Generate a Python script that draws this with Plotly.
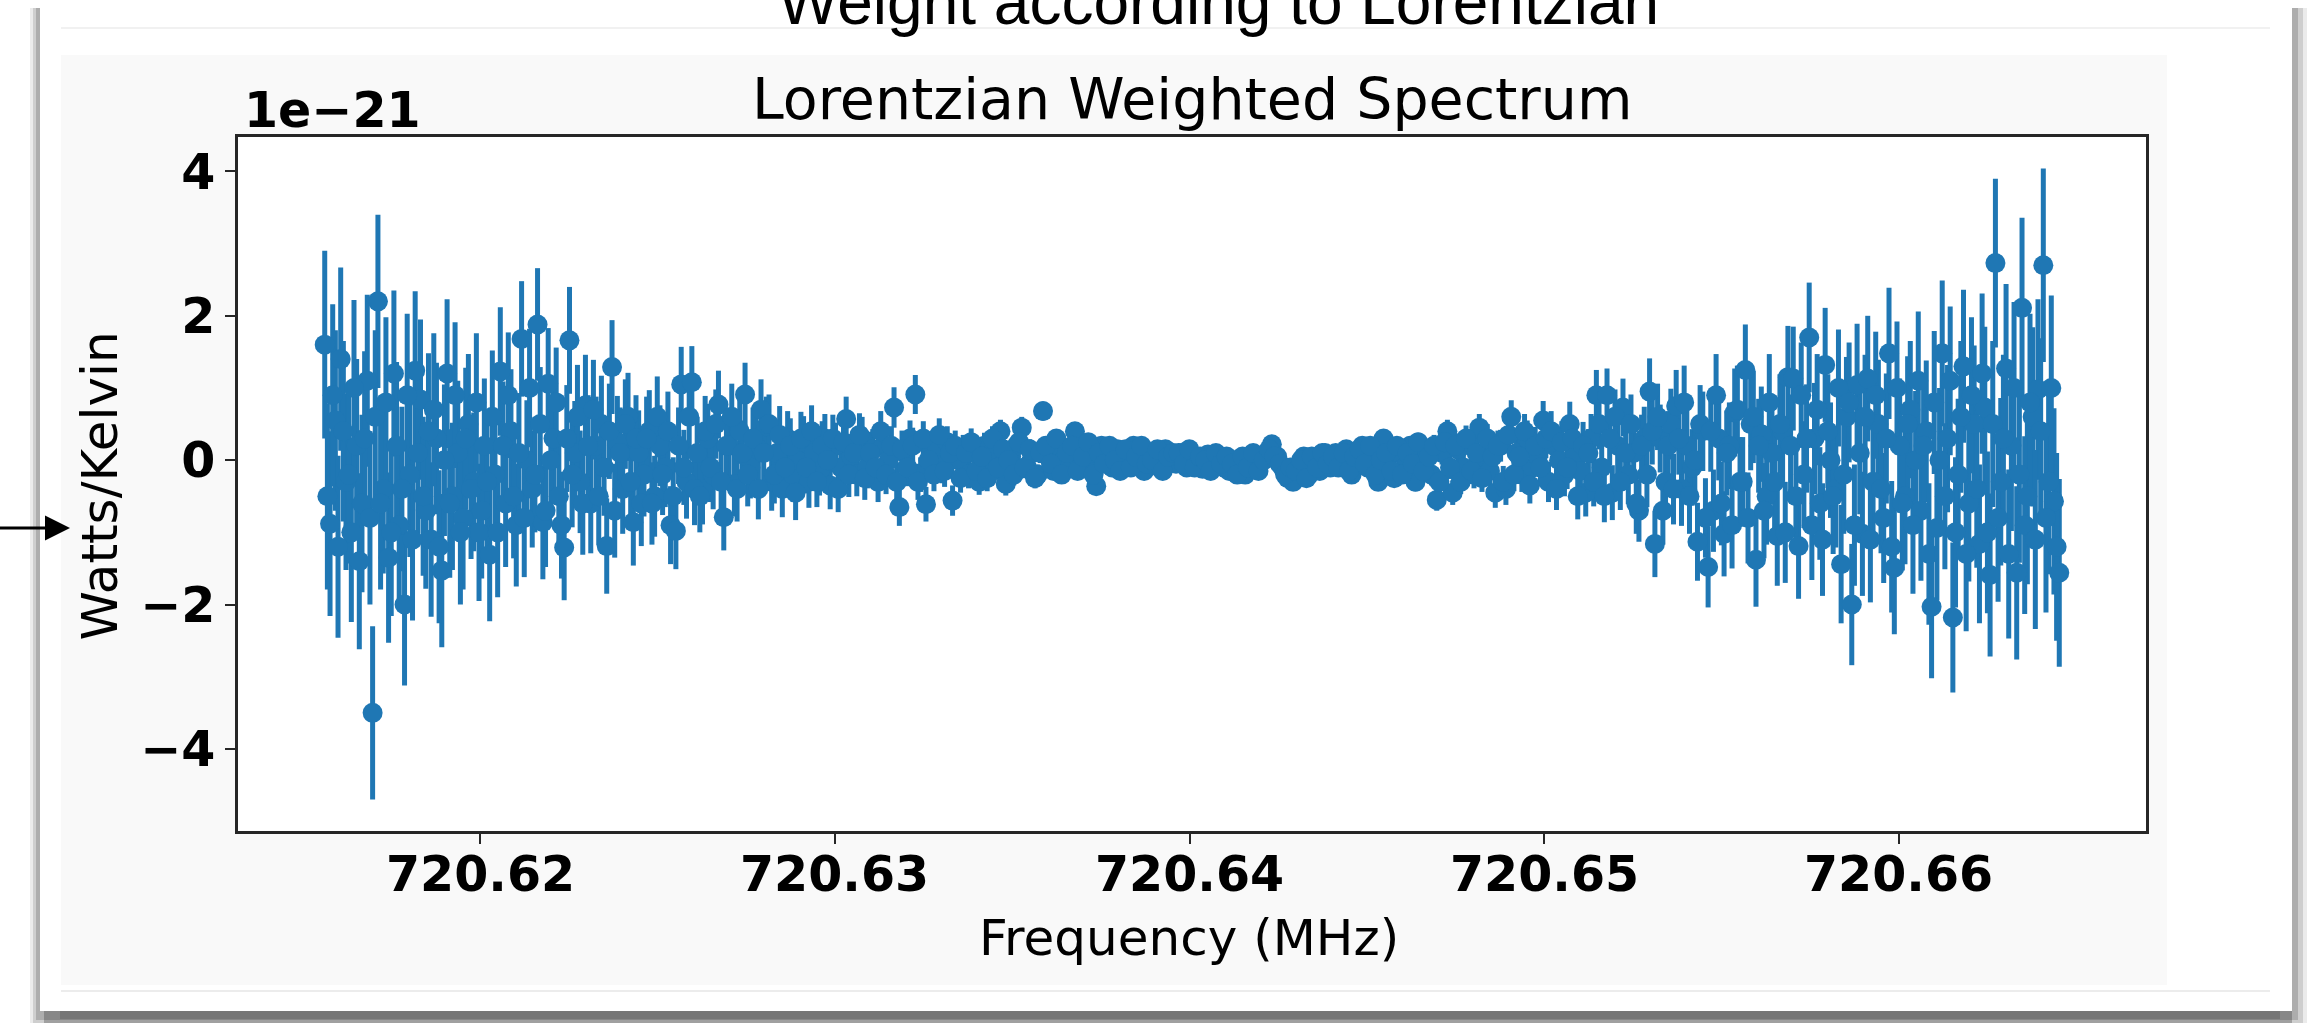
import plotly.graph_objects as go

# Lorentzian-weighted spectrum, values in units of 1e-21 W/K.
# Channels alternate between the two interleaved lists below.
first_channel_mhz = 720.61562
channel_width_mhz = 0.000075

power_even_ch = [
    1.60, -0.88, 0.55, 1.40, -0.30, -1.00, 0.20, -0.60, 1.10, -3.50,
    2.20, -0.40, -1.35, 1.20, -0.90, -2.00, -0.20, 1.24, 0.84, -0.70,
    -1.10, 0.30, -1.53, 1.20, -0.50, 0.10, -0.80, 0.50, -0.30, -1.00,
    0.20, -1.31, -0.20, 1.23, -0.60, 0.40, -0.90, 1.68, 0.00, -0.40,
    1.88, -0.86, 1.06, 0.30, -0.50, -1.21, 1.66, 0.10, -0.30, 0.76,
    -0.60, 0.20, 0.50, -1.19, 1.29, 0.25, -0.40, 0.60, -0.86, 0.10,
    -0.20, 0.40, -0.50, 0.20, -0.10, -0.90, -0.98, 1.05, -0.30, 1.08,
    0.10, -0.40, 0.30, -0.20, 0.77, -0.79, 0.20, -0.33, 0.40, 0.91,
    -0.10, 0.20, 0.70, 0.47, -0.30, 0.10, -0.40, 0.30, -0.20, 0.00,
    0.25, -0.30, 0.10, -0.15, 0.30, -0.35, 0.20, -0.10, 0.57, 0.05,
    -0.20, 0.30, -0.10, 0.15, -0.30, 0.20, 0.00, 0.73, -0.65, 0.10,
    0.30, 0.91, -0.20, -0.61, 0.10, 0.20, -0.10, 0.25, -0.56, 0.00,
    0.15, -0.20, 0.10, -0.30, 0.20, -0.05, 0.10, 0.40, -0.33, 0.05,
    0.20, 0.45, -0.10, 0.10, -0.20, 0.68, 0.05, -0.15, 0.20, 0.00,
    -0.10, 0.40, 0.15, -0.05, 0.10, -0.36, 0.20, 0.05, -0.10, 0.15,
    0.10, -0.05, 0.20, 0.00, -0.15, 0.10, 0.05, -0.10, 0.15, 0.00,
    -0.05, 0.10, -0.10, 0.05, 0.00, -0.12, 0.08, -0.05, 0.02, -0.10,
    -0.15, 0.00, -0.08, -0.20, -0.05, -0.10, 0.05, 0.10, 0.22, 0.05,
    -0.10, -0.25, -0.30, -0.10, 0.05, -0.20, 0.00, -0.15, 0.10, -0.10,
    0.10, -0.05, 0.15, -0.20, 0.05, 0.20, -0.10, 0.00, -0.30, 0.30,
    0.05, -0.25, 0.10, -0.10, 0.20, -0.30, 0.00, 0.15, -0.20, -0.55,
    0.10, 0.40, -0.45, 0.15, -0.10, 0.25, -0.20, 0.45, 0.00, -0.15,
    -0.45, 0.20, -0.40, 0.60, 0.10, -0.20, 0.30, -0.10, 0.05, 0.55,
    -0.30, 0.20, 0.00, -0.20, 0.50, 0.10, -0.15, -0.45, 0.30, 0.90,
    -0.10, 0.90, -0.45, 0.20, 0.73, -0.20, 0.10, -0.70, 0.30, 0.95,
    -1.16, 0.30, -0.30, 0.50, 0.75, -0.40, 0.20, -0.10, -1.13, 0.40,
    -1.48, -0.70, 0.30, -1.02, 0.20, 0.66, -0.30, 1.25, 0.50, -1.38,
    0.36, -0.50, 0.10, -1.05, 0.40, 1.15, 1.13, -1.19, -0.20, 1.70,
    0.30, -0.60, 1.32, 0.00, -0.40, -1.44, 0.60, -2.00, 1.04, -1.02,
    1.13, -0.30, 0.50, -0.80, 1.48, -1.49, 0.20, -0.50, 0.70, 0.00,
    -0.70, 0.40, -2.03, -0.94, 1.48, 0.30, -2.18, -0.20, 1.30, -0.60,
    0.50, -1.16, 0.73, -1.59, 2.73, -0.30, 1.27, 0.20, -1.56, 2.11,
    -0.50, 0.60, 0.98, 2.70, -0.30, -0.57, -1.56,
]

err_even_ch = [
    1.30, 1.28, 1.25, 1.27, 1.22, 1.24, 1.20, 1.23, 1.19, 1.20,
    1.20, 1.17, 1.18, 1.15, 1.16, 1.12, 1.14, 1.10, 1.11, 1.08,
    1.07, 1.05, 1.06, 1.03, 1.02, 1.00, 0.99, 0.97, 0.96, 0.95,
    0.93, 0.92, 0.91, 0.89, 0.88, 0.86, 0.85, 0.80, 0.83, 0.81,
    0.78, 0.79, 0.77, 0.76, 0.75, 0.73, 0.74, 0.72, 0.71, 0.70,
    0.69, 0.68, 0.67, 0.66, 0.65, 0.64, 0.62, 0.61, 0.60, 0.59,
    0.58, 0.57, 0.56, 0.56, 0.55, 0.54, 0.53, 0.52, 0.51, 0.50,
    0.50, 0.49, 0.48, 0.48, 0.47, 0.46, 0.46, 0.45, 0.45, 0.44,
    0.43, 0.42, 0.42, 0.41, 0.40, 0.40, 0.39, 0.38, 0.38, 0.37,
    0.36, 0.36, 0.35, 0.34, 0.34, 0.33, 0.32, 0.32, 0.31, 0.31,
    0.30, 0.30, 0.29, 0.28, 0.28, 0.27, 0.27, 0.28, 0.26, 0.26,
    0.25, 0.27, 0.24, 0.24, 0.23, 0.23, 0.22, 0.22, 0.21, 0.20,
    0.20, 0.19, 0.19, 0.18, 0.18, 0.17, 0.17, 0.16, 0.16, 0.15,
    0.15, 0.15, 0.14, 0.14, 0.14, 0.13, 0.13, 0.12, 0.12, 0.12,
    0.11, 0.11, 0.11, 0.11, 0.10, 0.10, 0.10, 0.10, 0.10, 0.09,
    0.09, 0.09, 0.09, 0.09, 0.08, 0.08, 0.08, 0.08, 0.08, 0.08,
    0.08, 0.08, 0.08, 0.07, 0.07, 0.07, 0.07, 0.07, 0.07, 0.07,
    0.07, 0.07, 0.07, 0.07, 0.07, 0.07, 0.07, 0.07, 0.07, 0.07,
    0.07, 0.07, 0.08, 0.08, 0.08, 0.08, 0.08, 0.08, 0.08, 0.08,
    0.08, 0.09, 0.09, 0.09, 0.09, 0.10, 0.10, 0.10, 0.11, 0.11,
    0.11, 0.12, 0.12, 0.12, 0.13, 0.13, 0.14, 0.14, 0.15, 0.15,
    0.16, 0.16, 0.17, 0.17, 0.18, 0.18, 0.19, 0.19, 0.20, 0.20,
    0.21, 0.22, 0.22, 0.23, 0.24, 0.24, 0.25, 0.26, 0.26, 0.27,
    0.28, 0.29, 0.29, 0.30, 0.31, 0.32, 0.33, 0.33, 0.34, 0.35,
    0.36, 0.37, 0.38, 0.39, 0.40, 0.41, 0.42, 0.43, 0.44, 0.46,
    0.46, 0.47, 0.48, 0.49, 0.50, 0.51, 0.52, 0.53, 0.54, 0.55,
    0.56, 0.57, 0.58, 0.59, 0.60, 0.61, 0.62, 0.63, 0.64, 0.65,
    0.66, 0.67, 0.68, 0.69, 0.70, 0.71, 0.72, 0.73, 0.74, 0.76,
    0.77, 0.78, 0.79, 0.80, 0.81, 0.82, 0.83, 0.84, 0.85, 0.86,
    0.87, 0.88, 0.89, 0.90, 0.91, 0.92, 0.93, 0.94, 0.95, 0.96,
    0.97, 0.98, 0.99, 1.00, 1.01, 1.02, 1.04, 1.05, 1.06, 1.08,
    1.09, 1.10, 1.12, 1.13, 1.17, 1.16, 1.17, 1.18, 1.20, 1.25,
    1.22, 1.24, 1.25, 1.34, 1.28, 1.29, 1.30,
]

power_odd_ch = [
    -0.50, 0.90, -1.20, 0.40, -0.20, 1.00, -1.40, 0.30, -0.80, 0.60,
    -0.60, 0.80, -1.00, 0.20, -0.40, 0.90, -1.10, 0.10, -0.50, 0.40,
    0.70, -1.20, 0.00, -0.60, 0.90, -1.00, 0.30, -0.40, 0.80, -0.70,
    -0.30, 0.60, -1.00, 0.20, 0.90, -0.50, 0.10, -0.80, 1.00, -0.20,
    0.50, -0.70, 0.00, 0.80, -0.90, 0.30, -0.20, 0.60, -0.60, 0.20,
    0.70, -0.50, -0.10, 0.40, -0.70, 0.10, 0.50, -0.30, 0.30, -0.60,
    0.30, -0.60, 0.60, -0.20, 0.40, -0.50, 0.20, -0.10, 0.60, -0.40,
    -0.50, 0.40, -0.10, 0.50, -0.30, 0.20, 0.60, -0.40, 0.10, -0.20,
    0.30, -0.40, 0.10, 0.50, -0.20, 0.35, -0.10, 0.20, -0.45, 0.30,
    -0.10, 0.40, -0.30, 0.20, 0.00, 0.30, -0.40, 0.25, -0.20, 0.10,
    0.35, -0.25, 0.10, -0.10, 0.40, -0.20, 0.20, -0.30, 0.15, -0.10,
    0.20, -0.30, 0.30, 0.00, -0.20, 0.35, -0.15, 0.10, 0.20, -0.25,
    0.10, 0.25, -0.15, 0.05, -0.25, 0.30, -0.10, 0.15, 0.00, -0.20,
    0.25, -0.10, 0.15, -0.25, 0.10, 0.20, -0.05, 0.30, -0.20, 0.10,
    0.20, -0.15, 0.05, 0.25, -0.20, 0.10, -0.05, 0.20, 0.00, -0.15,
    0.15, -0.10, 0.05, 0.20, -0.05, 0.00, 0.15, -0.15, 0.05, 0.10,
    0.10, -0.05, 0.15, -0.10, 0.05, 0.00, -0.15, 0.10, -0.05, 0.05,
    -0.05, -0.20, 0.05, -0.10, 0.10, -0.15, 0.00, 0.15, 0.05, -0.05,
    -0.20, -0.10, -0.15, 0.00, -0.25, 0.05, -0.10, 0.10, -0.05, 0.05,
    -0.10, 0.10, -0.15, 0.05, 0.15, -0.05, 0.20, -0.20, 0.00, 0.10,
    -0.15, 0.20, -0.20, 0.10, -0.05, 0.25, -0.15, 0.05, 0.20, -0.30,
    0.25, -0.10, 0.20, -0.30, 0.30, -0.15, 0.10, -0.25, 0.30, 0.05,
    0.20, -0.30, 0.35, -0.20, 0.05, 0.40, -0.35, 0.20, -0.10, 0.30,
    0.40, -0.40, 0.25, -0.10, 0.30, -0.50, 0.20, 0.10, -0.30, 0.50,
    -0.50, 0.30, 0.60, -0.30, 0.10, 0.50, -0.60, 0.20, -0.20, 0.40,
    0.60, -0.70, 0.20, -0.40, 0.30, 0.80, -0.50, 0.00, 0.50, -0.80,
    0.40, 0.90, -0.60, 0.10, -0.90, 0.70, -0.30, -0.80, 0.60, 0.20,
    -0.70, 0.80, -0.30, 0.50, -1.00, 0.20, -0.50, 0.90, 0.30, -0.90,
    0.70, -1.10, 0.40, -0.50, 1.00, -0.20, 0.80, -0.90, 0.10, 0.60,
    -1.10, 0.90, -0.40, 0.30, -1.20, 1.00, -0.60, 0.50, -0.90, 1.10,
    0.20, -1.30, 0.80, 0.00, -0.50, 1.10, -1.00, 0.60, -1.30, 0.90,
    -0.40, 1.20, -1.00, 0.50, -0.80, 0.30, -1.30, 1.00, -0.20, -0.90,
    0.80, -1.10, 0.40, -0.80, 1.00, -1.20,
]

err_odd_ch = [
    1.29, 1.26, 1.26, 1.25, 1.23, 1.22, 1.22, 1.21, 1.20, 1.20,
    1.19, 1.18, 1.16, 1.16, 1.14, 1.13, 1.12, 1.11, 1.10, 1.08,
    1.06, 1.06, 1.05, 1.03, 1.01, 1.00, 0.98, 0.97, 0.96, 0.94,
    0.93, 0.92, 0.90, 0.89, 0.87, 0.86, 0.83, 0.82, 0.82, 0.80,
    0.79, 0.78, 0.77, 0.76, 0.74, 0.74, 0.73, 0.72, 0.71, 0.70,
    0.69, 0.68, 0.67, 0.66, 0.65, 0.63, 0.62, 0.61, 0.60, 0.59,
    0.58, 0.57, 0.56, 0.56, 0.55, 0.54, 0.53, 0.52, 0.51, 0.50,
    0.50, 0.49, 0.48, 0.48, 0.47, 0.46, 0.46, 0.45, 0.45, 0.44,
    0.43, 0.42, 0.42, 0.41, 0.40, 0.40, 0.39, 0.38, 0.38, 0.37,
    0.36, 0.36, 0.35, 0.34, 0.34, 0.33, 0.32, 0.32, 0.31, 0.31,
    0.30, 0.30, 0.29, 0.28, 0.28, 0.27, 0.27, 0.27, 0.26, 0.26,
    0.25, 0.25, 0.24, 0.24, 0.23, 0.23, 0.22, 0.22, 0.21, 0.20,
    0.20, 0.19, 0.19, 0.18, 0.18, 0.17, 0.17, 0.16, 0.16, 0.15,
    0.15, 0.15, 0.14, 0.14, 0.14, 0.13, 0.13, 0.12, 0.12, 0.12,
    0.11, 0.11, 0.11, 0.11, 0.10, 0.10, 0.10, 0.10, 0.10, 0.09,
    0.09, 0.09, 0.09, 0.09, 0.08, 0.08, 0.08, 0.08, 0.08, 0.08,
    0.08, 0.08, 0.08, 0.07, 0.07, 0.07, 0.07, 0.07, 0.07, 0.07,
    0.07, 0.07, 0.07, 0.07, 0.07, 0.07, 0.07, 0.07, 0.07, 0.07,
    0.07, 0.07, 0.08, 0.08, 0.08, 0.08, 0.08, 0.08, 0.08, 0.08,
    0.08, 0.09, 0.09, 0.09, 0.09, 0.10, 0.10, 0.10, 0.11, 0.11,
    0.11, 0.12, 0.12, 0.12, 0.13, 0.13, 0.14, 0.14, 0.15, 0.15,
    0.16, 0.16, 0.17, 0.17, 0.18, 0.18, 0.19, 0.19, 0.20, 0.20,
    0.21, 0.22, 0.22, 0.23, 0.24, 0.24, 0.25, 0.26, 0.26, 0.27,
    0.28, 0.29, 0.29, 0.30, 0.31, 0.32, 0.33, 0.33, 0.34, 0.35,
    0.36, 0.37, 0.38, 0.39, 0.40, 0.41, 0.42, 0.43, 0.45, 0.46,
    0.46, 0.47, 0.48, 0.49, 0.50, 0.51, 0.52, 0.53, 0.54, 0.55,
    0.56, 0.57, 0.58, 0.59, 0.60, 0.61, 0.62, 0.63, 0.64, 0.65,
    0.66, 0.67, 0.68, 0.69, 0.70, 0.71, 0.72, 0.73, 0.75, 0.76,
    0.77, 0.78, 0.79, 0.80, 0.81, 0.82, 0.83, 0.84, 0.85, 0.86,
    0.87, 0.88, 0.89, 0.90, 0.91, 0.92, 0.93, 0.94, 0.95, 0.96,
    0.97, 0.98, 0.99, 1.00, 1.01, 1.03, 1.04, 1.05, 1.07, 1.08,
    1.09, 1.11, 1.12, 1.15, 1.16, 1.16, 1.17, 1.19, 1.22, 1.23,
    1.23, 1.24, 1.29, 1.31, 1.28, 1.30,
]

x_ticks = [720.62, 720.63, 720.64, 720.65, 720.66]
x_tick_text = ["720.62", "720.63", "720.64", "720.65", "720.66"]
y_ticks = [-4, -2, 0, 2, 4]
y_tick_text = ["\u22124", "\u22122", "0", "2", "4"]

# channel frequencies: even list on channels 0, 2, 4, ...; odd list on 1, 3, 5, ...
freq_even = [first_channel_mhz + channel_width_mhz * (2 * k) for k in range(len(power_even_ch))]
freq_odd = [first_channel_mhz + channel_width_mhz * (2 * k + 1) for k in range(len(power_odd_ch))]

freq = freq_even + freq_odd
power = power_even_ch + power_odd_ch
power_err = err_even_ch + err_odd_ch

W, H = 2315, 1023
PL, PR, PT, PB = 238, 2146, 137, 831  # plot area in page pixels


def px(x):
    return (x - PL) / (PR - PL)


def py(y):
    return (PB - y) / (PB - PT)


BLUE = "#1f77b4"
INK = "#262626"

fig = go.Figure()
fig.add_trace(go.Scatter(
    x=freq, y=power, mode="markers",
    marker=dict(color=BLUE, size=20, line=dict(width=0)),
    error_y=dict(type="data", array=power_err, visible=True,
                 color=BLUE, thickness=5, width=0),
    showlegend=False, hoverinfo="x+y",
))


def rect(x0, y0, x1, y1, fill, layer="below"):
    return dict(type="rect", xref="paper", yref="paper",
                x0=px(x0), x1=px(x1), y0=py(y1), y1=py(y0),
                fillcolor=fill, line=dict(width=0), layer=layer)


def hline(x0, x1, y, color, width):
    return dict(type="line", xref="paper", yref="paper",
                x0=px(x0), x1=px(x1), y0=py(y), y1=py(y),
                line=dict(color=color, width=width), layer="below")


shapes = [
    # card drop shadow
    rect(30, 8, 2307, 1023, "rgba(0,0,0,0.08)"),
    rect(33, 8, 2303, 1023, "rgba(0,0,0,0.12)"),
    rect(36, 8, 2298, 1020, "rgba(0,0,0,0.16)"),
    rect(44, 1010, 2292, 1023, "rgba(0,0,0,0.22)"),
    rect(60, 1010, 2280, 1019, "rgba(0,0,0,0.12)"),
    # white card
    rect(40, 6, 2292, 1011, "#ffffff"),
    hline(61, 2270, 28, "#ececec", 1.5),
    hline(61, 2270, 991, "#e6e6e6", 1.5),
    # figure face and axes face
    rect(61, 55, 2167, 985, "#f9f9f9"),
    rect(PL, PT, PR, PB, "#ffffff"),
    # pointer arrow at the y label
    dict(type="line", xref="paper", yref="paper",
         x0=px(0), x1=px(48), y0=py(528), y1=py(528),
         line=dict(color="#000000", width=3), layer="above"),
    dict(type="path", xref="paper", yref="paper",
         path="M {a},{b} L {c},{d} L {a},{e} Z".format(
             a=px(45), b=py(515.5), c=px(70), d=py(528), e=py(540.5)),
         fillcolor="#000000", line=dict(width=0), layer="above"),
]

bold_tick_font = dict(family="DejaVu Sans", size=49, color="#000000", weight=700)

annotations = [
    dict(text="Weight according to Lorentzian", x=px(1218), y=py(2),
         xref="paper", yref="paper", xanchor="center", yanchor="middle",
         showarrow=False,
         font=dict(family="Liberation Sans", size=64, color="#000000")),
    dict(text="Lorentzian Weighted Spectrum", x=px(1192), y=py(99),
         xref="paper", yref="paper", xanchor="center", yanchor="middle",
         showarrow=False,
         font=dict(family="DejaVu Sans", size=57, color="#000000")),
    dict(text="1e\u221221", x=px(242), y=py(110.5),
         xref="paper", yref="paper", xanchor="left", yanchor="middle",
         showarrow=False, font=bold_tick_font),
    dict(text="Frequency (MHz)", x=px(1188.5), y=py(938),
         xref="paper", yref="paper", xanchor="center", yanchor="middle",
         showarrow=False,
         font=dict(family="DejaVu Sans", size=50, color="#000000")),
    dict(text="Watts/Kelvin", x=px(99), y=py(486.5), textangle=-90,
         xref="paper", yref="paper", xanchor="center", yanchor="middle",
         showarrow=False,
         font=dict(family="DejaVu Sans", size=50, color="#000000")),
]

# x tick labels, placed on the data axis just under the ticks
for tv, tt in zip(x_ticks, x_tick_text):
    annotations.append(dict(
        text=tt, x=tv, xref="x", y=py(874), yref="paper",
        xanchor="center", yanchor="middle", showarrow=False,
        font=bold_tick_font))

axis_common = dict(
    showgrid=False, zeroline=False, showline=True, mirror=True,
    linecolor=INK, linewidth=2.5, ticks="outside", ticklen=10,
    tickwidth=2, tickcolor=INK, tickfont=bold_tick_font,
)

fig.update_layout(
    template="none",
    width=W, height=H,
    margin=dict(l=PL, r=W - PR, t=PT, b=H - PB, pad=0),
    paper_bgcolor="#ffffff",
    plot_bgcolor="rgba(0,0,0,0)",
    xaxis=dict(range=[720.613175, 720.666965], tickvals=x_ticks,
               showticklabels=False, **axis_common),
    yaxis=dict(range=[-5.137, 4.477], tickvals=y_ticks,
               ticktext=y_tick_text, **axis_common),
    shapes=shapes,
    annotations=annotations,
    showlegend=False,
)

fig.write_html("out.html")
